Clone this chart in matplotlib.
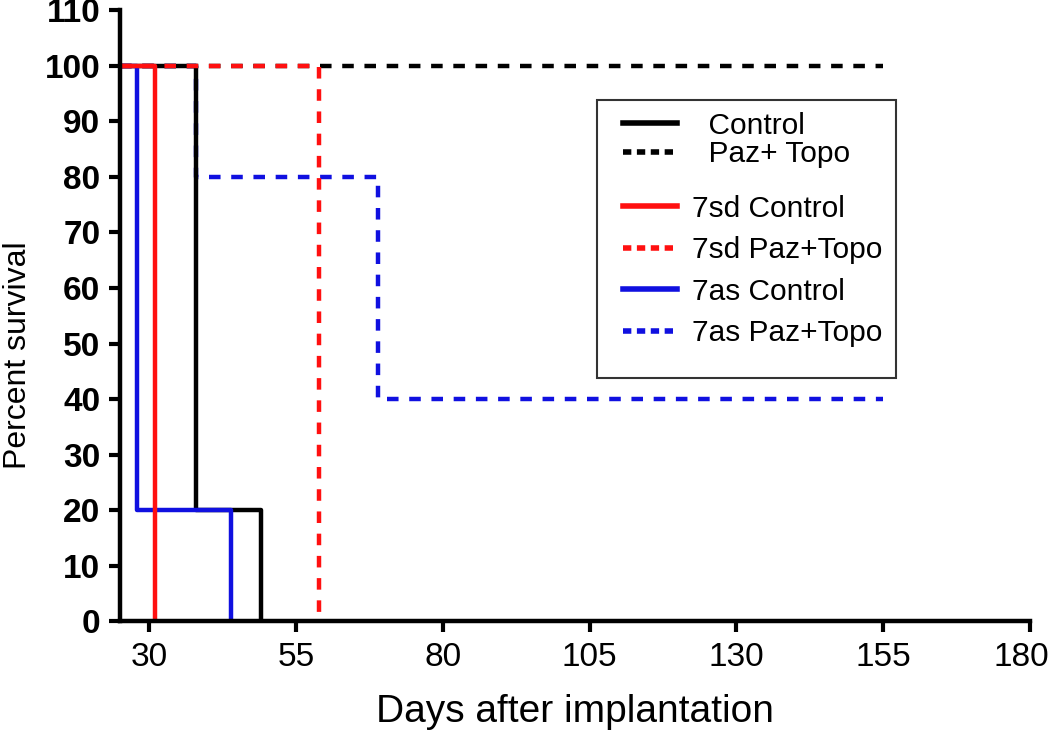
import matplotlib
matplotlib.use("Agg")
import matplotlib.pyplot as plt
from matplotlib.lines import Line2D
from matplotlib.patches import Rectangle

plt.rcParams['font.family'] = ['Liberation Sans', 'DejaVu Sans']

# survival curves (days, percent)
ctrl_days = [25, 38, 49]
ctrl_surv = [100, 20, 0]
paz_days = [25, 155]
paz_surv = [100, 100]
sd_ctrl_days = [25, 31]
sd_ctrl_surv = [100, 0]
sd_paz_days = [25, 59]
sd_paz_surv = [100, 0]
as_ctrl_days = [25, 28, 44]
as_ctrl_surv = [100, 20, 0]
as_paz_days = [25, 38, 69, 155]
as_paz_surv = [100, 80, 40, 40]

x_ticks = [30, 55, 80, 105, 130, 155, 180]
x_labels = ['30', '55', '80', '105', '130', '155', '']
y_ticks = list(range(0, 111, 10))

RED = '#ff1010'
BLUE = '#1010e0'

fig = plt.figure(figsize=(10.5, 7.31), dpi=100)
ax = fig.add_axes([0.114, 0.150, 0.867, 0.836])

dash = (0, (2.6, 2.4))
lw = 3.2
ax.step(paz_days, paz_surv, where='post', color='black', lw=lw, ls=dash)
ax.step(as_paz_days, as_paz_surv, where='post', color=BLUE, lw=lw, ls=dash)
ax.step(ctrl_days, ctrl_surv, where='post', color='black', lw=lw)
ax.step(as_ctrl_days, as_ctrl_surv, where='post', color=BLUE, lw=lw)
ax.step(sd_paz_days, sd_paz_surv, where='post', color=RED, lw=lw, ls=dash)
ax.step(sd_ctrl_days, sd_ctrl_surv, where='post', color=RED, lw=lw)

# legend: two groups inside one box
dot = (0, (1.5, 1))
h1 = [Line2D([], [], color='black', lw=4),
      Line2D([], [], color='black', lw=4, ls=dot)]
l1 = ['  Control', '  Paz+ Topo']
h2 = [Line2D([], [], color=RED, lw=4),
      Line2D([], [], color=RED, lw=4, ls=dot),
      Line2D([], [], color=BLUE, lw=4),
      Line2D([], [], color=BLUE, lw=4, ls=dot)]
l2 = ['7sd Control', '7sd Paz+Topo', '7as Control', '7as Paz+Topo']
common = dict(loc='upper left', fontsize=21.5, frameon=False, handlelength=1.8,
              handletextpad=0.5, borderpad=0, borderaxespad=0)
leg1 = ax.legend(h1, l1, bbox_to_anchor=(0.553, 0.834), labelspacing=0.02, **common)
ax.add_artist(leg1)
ax.legend(h2, l2, bbox_to_anchor=(0.553, 0.698), labelspacing=0.45, **common)
ax.add_patch(Rectangle((0.524, 0.399), 0.329, 0.454, transform=ax.transAxes,
                       fill=False, edgecolor='#333333', lw=1.5, zorder=5))

ax.set_xlim(25, 180)
ax.set_ylim(0, 110)
ax.set_xticks(x_ticks)
ax.set_xticklabels(x_labels)
ax.set_yticks(y_ticks)
ax.spines['top'].set_visible(False)
ax.spines['right'].set_visible(False)
ax.spines['left'].set_linewidth(3.2)
ax.spines['bottom'].set_linewidth(3.2)
ax.tick_params(axis='both', direction='out', length=8, width=3)
ax.tick_params(axis='x', labelsize=24, pad=7)
ax.tick_params(axis='y', labelsize=24, pad=6)
for t in ax.get_yticklabels():
    t.set_fontweight('bold')

# last x tick label, nudged left so it stays inside the figure
ax.annotate('180', xy=(x_ticks[-1], 0), xycoords='data', xytext=(-6, -15),
            textcoords='offset points', ha='center', va='top', fontsize=24,
            annotation_clip=False)

ax.set_xlabel('Days after implantation', fontsize=28, labelpad=15)
ax.set_ylabel('Percent survival', fontsize=23)
ax.yaxis.set_label_coords(-0.095, 0.435)

fig.savefig('out.png', dpi=100)
